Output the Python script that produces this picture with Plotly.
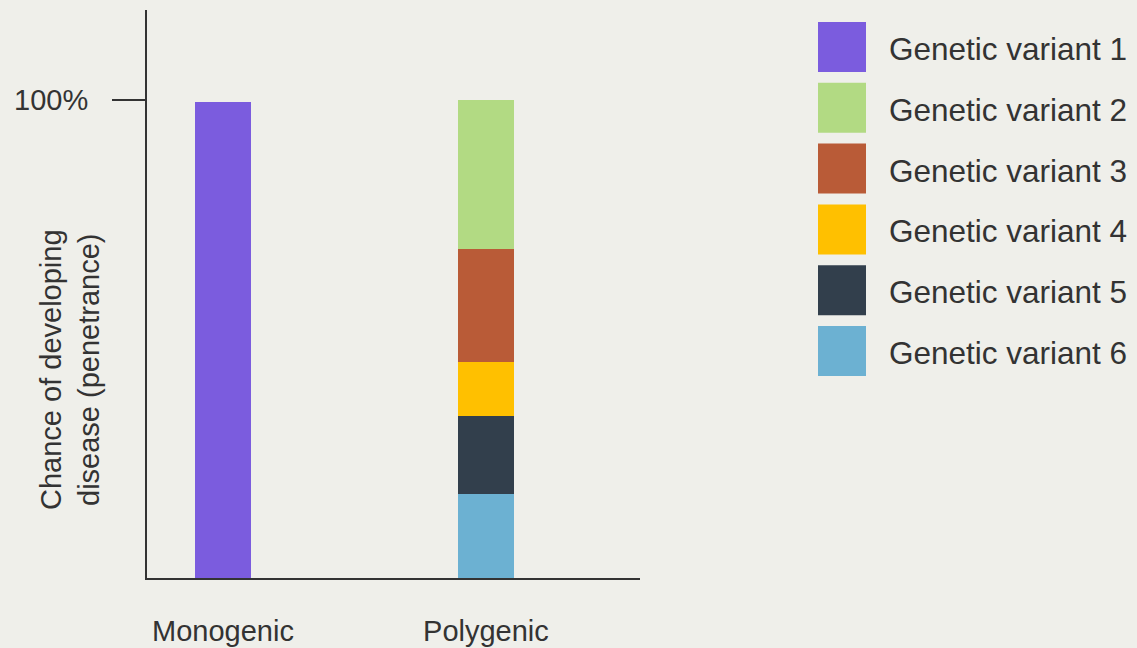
import plotly.graph_objects as go

# ---- data ----
categories = ["Monogenic", "Polygenic"]
variant_names = ["Genetic variant 1", "Genetic variant 2", "Genetic variant 3",
                 "Genetic variant 4", "Genetic variant 5", "Genetic variant 6"]
variant_colors = ["#7b5cde", "#b2da83", "#b95b37", "#ffc000", "#323f4c", "#6cb1d2"]
monogenic_value = [99.5]            # variant 1 only, Monogenic
polygenic_values = [31.0, 23.8, 11.3, 16.3, 17.5]  # variants 2..6, Polygenic
y_tick_vals = [100]
y_tick_text = ["100%"]

BG = "#efefea"
TXT = "#333333"
FONT = "Liberation Sans, Arial, sans-serif"

L, R, T, B = 147, 497, 10, 70
W, H = 1137, 648
PW, PH = W - L - R, H - T - B

fig = go.Figure()
bw = 0.213
# stack from bottom: variant 6 first
fig.add_trace(go.Bar(x=[categories[0]], y=monogenic_value, name=variant_names[0],
                     marker=dict(color=variant_colors[0], line=dict(width=0)), width=bw))
for i in range(5, 0, -1):
    fig.add_trace(go.Bar(x=[categories[1]], y=[polygenic_values[i - 1]], name=variant_names[i],
                         marker=dict(color=variant_colors[i], line=dict(width=0)), width=bw))

fig.update_layout(
    width=W, height=H,
    barmode="stack",
    showlegend=False,
    paper_bgcolor=BG, plot_bgcolor=BG,
    margin=dict(l=L, r=R, t=T, b=B, pad=0, autoexpand=False),
    font=dict(family=FONT, size=29, color=TXT),
)
fig.update_xaxes(
    type="category", range=[-0.289, 1.586], automargin=False,
    showline=True, linecolor=TXT, linewidth=2,
    showgrid=False, zeroline=False, ticks="",
    tickfont=dict(size=29, color=TXT), ticklabelstandoff=26,
)
fig.update_yaxes(
    range=[0, 118.8], automargin=False,
    showline=True, linecolor=TXT, linewidth=2,
    showgrid=False, zeroline=False,
    ticks="outside", ticklen=33, tickwidth=2, tickcolor=TXT,
    tickvals=y_tick_vals, ticktext=y_tick_text,
    tickfont=dict(size=29, color=TXT), ticklabelstandoff=18,
)

def px_x(px):
    return (px - L) / PW

def px_y(py):
    return (H - B - py) / PH

# y axis title
fig.add_annotation(
    text="Chance of developing<br>disease (penetrance)",
    xref="paper", yref="paper", x=px_x(70), y=px_y(370),
    textangle=-90, showarrow=False, xanchor="center", yanchor="middle",
    font=dict(size=29, color=TXT, family=FONT),
)

# legend drawn manually
for i, (nm, col) in enumerate(zip(variant_names, variant_colors)):
    top = 22 + 60.8 * i
    fig.add_shape(type="rect", xref="paper", yref="paper",
                  x0=px_x(818), x1=px_x(866), y0=px_y(top + 50), y1=px_y(top),
                  fillcolor=col, line=dict(width=0))
    fig.add_annotation(text=nm, xref="paper", yref="paper",
                       x=px_x(887), y=px_y(top + 27), xanchor="left", yanchor="middle",
                       showarrow=False, font=dict(size=31.5, color=TXT, family=FONT))

fig.write_html("out.html")
